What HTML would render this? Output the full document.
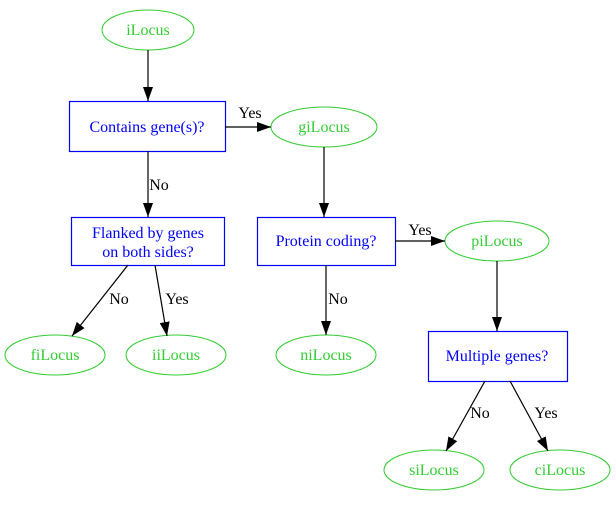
<!DOCTYPE html>
<html><head><meta charset="utf-8"><style>
html,body{margin:0;padding:0;background:#fff;}
svg text{font-family:"Liberation Serif",serif;font-size:16px;}
</style></head><body>
<svg width="616" height="500" viewBox="0 0 616 500" xmlns="http://www.w3.org/2000/svg">
<defs><marker id="a" markerWidth="14" markerHeight="10" refX="14" refY="5" orient="auto" markerUnits="userSpaceOnUse"><path d="M0,0 L14,5 L0,10 z" fill="#000"/></marker></defs>
<g fill="none" stroke="#33cc33" stroke-width="1">
<ellipse cx="148" cy="30" rx="46" ry="20"/>
<ellipse cx="324" cy="127" rx="53" ry="20"/>
<ellipse cx="497" cy="241" rx="52" ry="20"/>
<ellipse cx="55" cy="355" rx="50" ry="20"/>
<ellipse cx="176" cy="355" rx="50" ry="20"/>
<ellipse cx="326" cy="355" rx="50" ry="20"/>
<ellipse cx="434" cy="470" rx="50" ry="20"/>
<ellipse cx="560" cy="470" rx="50" ry="20"/>
</g>
<g fill="none" stroke="#0000ff" stroke-width="1.2">
<rect x="69.5" y="101.5" width="156" height="50"/>
<rect x="71.5" y="217.5" width="153" height="48"/>
<rect x="257.5" y="217.5" width="138" height="48"/>
<rect x="428.5" y="331.5" width="139" height="50"/>
</g>
<g stroke="#000" stroke-width="1.2" marker-end="url(#a)">
<line x1="148" y1="50" x2="148" y2="101"/>
<line x1="225" y1="127" x2="271" y2="127"/>
<line x1="148" y1="151" x2="148" y2="217"/>
<line x1="324" y1="147" x2="324" y2="217"/>
<line x1="395" y1="241" x2="445" y2="241"/>
<line x1="326" y1="265" x2="326" y2="335"/>
<line x1="128" y1="265" x2="72" y2="336"/>
<line x1="155" y1="265" x2="167" y2="336"/>
<line x1="497" y1="261" x2="497" y2="331"/>
<line x1="485" y1="381" x2="446" y2="451"/>
<line x1="510" y1="381" x2="548" y2="451"/>
</g>
<g fill="#33cc33" text-anchor="middle">
<text x="148" y="35">iLocus</text>
<text x="324" y="132">giLocus</text>
<text x="497" y="246">piLocus</text>
<text x="55" y="360">fiLocus</text>
<text x="176" y="360">iiLocus</text>
<text x="326" y="360">niLocus</text>
<text x="434" y="475">siLocus</text>
<text x="560" y="475">ciLocus</text>
</g>
<g fill="#0000ff" text-anchor="middle">
<text x="147" y="132">Contains gene(s)?</text>
<text x="148" y="238">Flanked by genes</text>
<text x="148" y="257">on both sides?</text>
<text x="326" y="246">Protein coding?</text>
<text x="497" y="361">Multiple genes?</text>
</g>
<g fill="#000" text-anchor="middle">
<text x="250" y="118">Yes</text>
<text x="159" y="190">No</text>
<text x="420" y="235">Yes</text>
<text x="338" y="304">No</text>
<text x="119" y="304">No</text>
<text x="177" y="304">Yes</text>
<text x="480" y="418">No</text>
<text x="546" y="418">Yes</text>
</g>
</svg>
</body></html>
